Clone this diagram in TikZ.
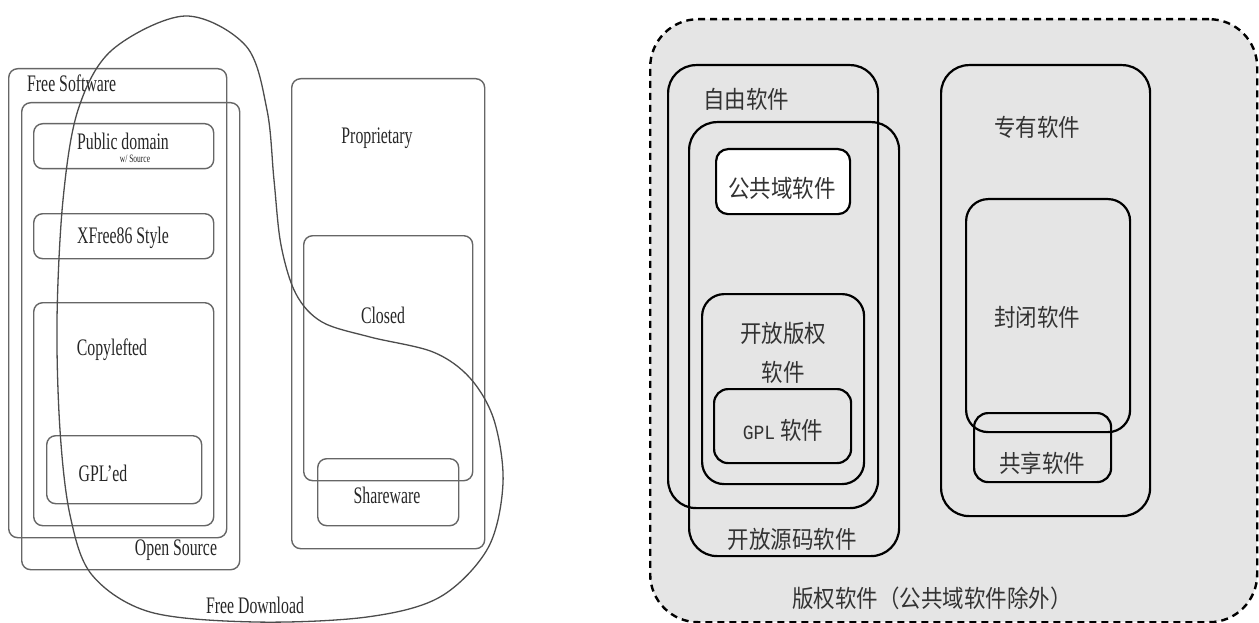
\documentclass[tikz,border=0pt]{standalone}
\usepackage{graphicx}
\usepackage{fontspec}
\setmainfont{Liberation Serif}
\newfontfamily\cjk{Noto Sans CJK SC}
\newfontfamily\gplfont{Liberation Mono}
\newcommand{\tallt}[1]{\scalebox{1}[1.5]{#1}}
\newcommand{\tallc}[1]{\scalebox{1}[1.12]{#1}}
\begin{document}
\begin{tikzpicture}[x=1pt,y=-1pt,
  lbox/.style={draw=black!60, line width=1.4pt, rounded corners=9pt, anchor=north west, inner sep=0pt},
  ltext/.style={font=\fontsize{15.8}{16}\selectfont, text=black!85, inner sep=0pt},
  rbox/.style={draw=black, line width=2.2pt, rounded corners=28pt, anchor=north west, inner sep=0pt},
  rsbox/.style={draw=black, line width=2.2pt, rounded corners=14pt, anchor=north west, inner sep=0pt},
  rtext/.style={font=\cjk\fontsize{21.5}{23}\selectfont, text=black!80, inner sep=0pt}]
\useasboundingbox (0,0) rectangle (1259,623);
% ---------------- left diagram ----------------
\node[lbox, minimum width=218, minimum height=469] (fs) at (8,68) {};
\node[lbox, minimum width=218, minimum height=467] (os) at (21,102) {};
\node[lbox, minimum width=180, minimum height=45] (pd) at (33,123) {};
\node[lbox, minimum width=180, minimum height=45] (xf) at (33,213) {};
\node[lbox, minimum width=180, minimum height=223] (cl) at (33,302) {};
\node[lbox, minimum width=155, minimum height=68] (gpl) at (46,435) {};
\node[lbox, minimum width=193, minimum height=470] (pr) at (291,78) {};
\node[lbox, minimum width=169, minimum height=245] (cd) at (303,235) {};
\node[lbox, minimum width=141, minimum height=67] (sw) at (317,458) {};
\node[ltext, anchor=west] (tfs) at (27,83) {\tallt{Free Software}};
\node[ltext] (tos) at (176,550) {\tallt{Open Source}};
\node[ltext] (tpd) at (123,141) {\tallt{Public domain}};
\node[ltext, font=\fontsize{7.5}{8}\selectfont] (tws) at (135,159) {\tallt{w/ Source}};
\node[ltext] (txf) at (123,238) {\tallt{XFree86 Style}};
\node[ltext] (tcl) at (112,350) {\tallt{Copylefted}};
\node[ltext] (tgpl) at (103,473) {\tallt{GPL’ed}};
\node[ltext] (tpr) at (377,138) {\tallt{Proprietary}};
\node[ltext] (tcd) at (383,315) {\tallt{Closed}};
\node[ltext] (tsw) at (387,495) {\tallt{Shareware}};
\node[ltext] (tfd) at (255,605) {\tallt{Free Download}};
\draw[draw=black!70, line width=1.3pt] plot[smooth cycle, tension=0.55] coordinates {
  (185,16) (112,50) (78,110) (63,200) (57,320) (60,430) (70,515) (92,575)
  (150,612) (255,622) (367,617) (440,597) (488,548) (503,483) (494,420)
  (470,378) (433,352) (370,337) (322,322) (296,294) (281,245) (274,180)
  (267,110) (246,46)};
% ---------------- right diagram ----------------
\node[draw=black, line width=2.4pt, dash pattern=on 7pt off 5pt, fill=black!10,
  rounded corners=48pt, anchor=north west, inner sep=0pt,
  minimum width=607, minimum height=603] (cr) at (649,18) {};
\node[rbox, minimum width=210, minimum height=443] (ff) at (667,64) {};
\node[rbox, minimum width=210, minimum height=434] (oss) at (688,121) {};
\node[rsbox, fill=white, rounded corners=12pt, minimum width=134, minimum height=65] (pub) at (715,148) {};
\node[rbox, rounded corners=22pt, minimum width=162, minimum height=190] (ocr) at (701,293) {};
\node[rsbox, minimum width=137, minimum height=74] (gps) at (713,388) {};
\node[rbox, minimum width=209, minimum height=451] (prs) at (940,64) {};
\node[rbox, rounded corners=22pt, minimum width=164, minimum height=233] (cls) at (965,198) {};
\node[rsbox, minimum width=137, minimum height=69] (shs) at (973,412) {};
\node[rtext] (tff) at (746,99) {\tallc{自由软件}};
\node[rtext] (toss) at (792,539) {\tallc{开放源码软件}};
\node[rtext] (tpub) at (782,188) {\tallc{公共域软件}};
\node[rtext] (tocr1) at (783,333) {\tallc{开放版权}};
\node[rtext] (tocr2) at (783,372) {\tallc{软件}};
\node[rtext] (tgps) at (783,430) {\tallc{{\gplfont\fontsize{18}{19}\selectfont GPL} 软件}};
\node[rtext] (tprs) at (1037,127) {\tallc{专有软件}};
\node[rtext] (tcls) at (1037,317) {\tallc{封闭软件}};
\node[rtext] (tshs) at (1042,463) {\tallc{共享软件}};
\node[rtext] (tcr) at (932,598) {\tallc{版权软件（公共域软件除外）}};
\end{tikzpicture}
\end{document}
